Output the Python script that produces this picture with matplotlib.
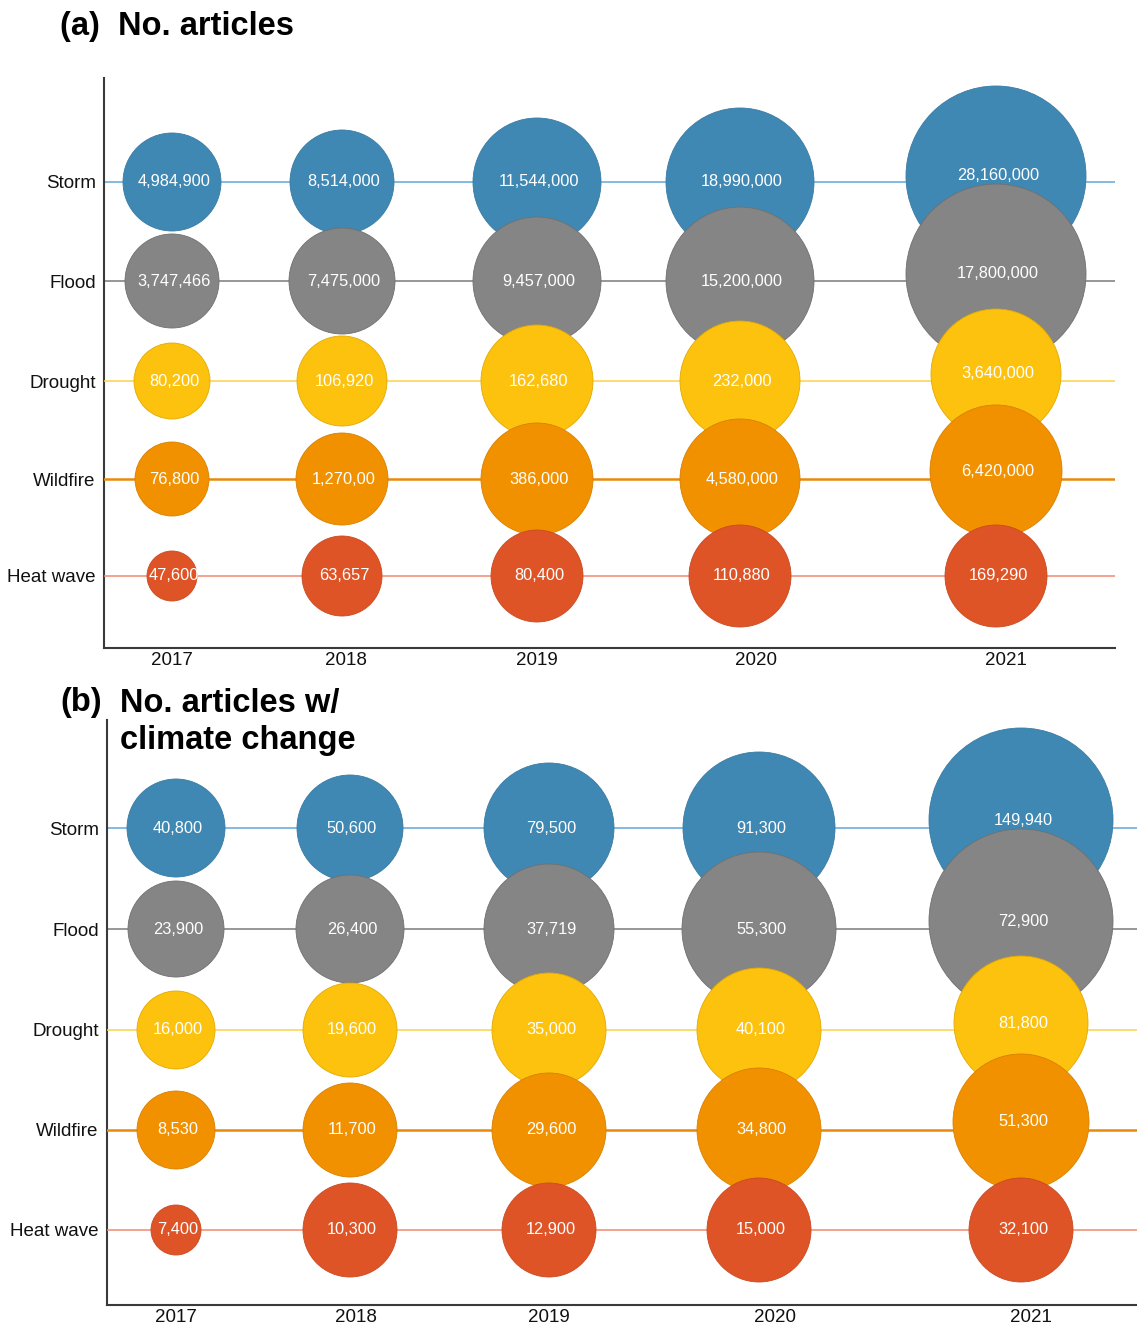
import matplotlib.pyplot as plt
from matplotlib.patches import Circle

plt.rcParams['font.family'] = ['Liberation Sans', 'DejaVu Sans']

years = ["2017", "2018", "2019", "2020", "2021"]
hazards = ["Storm", "Flood", "Drought", "Wildfire", "Heat wave"]

# (a) number of articles, labels as printed in the figure
storm_a = ["4,984,900", "8,514,000", "11,544,000", "18,990,000", "28,160,000"]
flood_a = ["3,747,466", "7,475,000", "9,457,000", "15,200,000", "17,800,000"]
drought_a = ["80,200", "106,920", "162,680", "232,000", "3,640,000"]
wildfire_a = ["76,800", "1,270,00", "386,000", "4,580,000", "6,420,000"]
heatwave_a = ["47,600", "63,657", "80,400", "110,880", "169,290"]

# (b) number of articles mentioning climate change
storm_b = ["40,800", "50,600", "79,500", "91,300", "149,940"]
flood_b = ["23,900", "26,400", "37,719", "55,300", "72,900"]
drought_b = ["16,000", "19,600", "35,000", "40,100", "81,800"]
wildfire_b = ["8,530", "11,700", "29,600", "34,800", "51,300"]
heatwave_b = ["7,400", "10,300", "12,900", "15,000", "32,100"]

# bubble radii as drawn (pixels), rows = hazards, cols = years
radius_a = [[49, 52, 64, 74, 90],
            [47, 53, 64, 74, 90],
            [38, 45, 56, 60, 65],
            [37, 46, 56, 60, 66],
            [25, 40, 46, 51, 51]]
radius_b = [[49, 53, 65, 76, 92],
            [48, 54, 65, 77, 92],
            [39, 47, 57, 62, 67],
            [39, 47, 57, 62, 68],
            [25, 47, 47, 52, 52]]

fill_colors = ["#3f88b4", "#858585", "#fdc20e", "#f29100", "#df5427"]
edge_colors = ["#3a7ba3", "#707070", "#e2aa00", "#d88000", "#c84a22"]
line_colors = ["#62a8d8", "#7a7a7a", "#fcd24a", "#e8890c", "#f08a70"]
line_widths = [1.1, 1.1, 1.1, 1.8, 1.1]

W, H = 1137, 1327
fig = plt.figure(figsize=(W / 100, H / 100), dpi=100)


def draw_panel(box, bubble_x, tick_x, row_y, labels, radii, lift):
    left, top, right, bottom = box
    ax = fig.add_axes([left / W, 1 - bottom / H, (right - left) / W, (bottom - top) / H])
    # one data unit = one pixel, so circles stay round
    ax.set_xlim(0, right - left)
    ax.set_ylim(bottom - top, 0)

    for i, y in enumerate(row_y):
        ax.axhline(y, color=line_colors[i], lw=line_widths[i], zorder=1 + i)
        for j, x in enumerate(bubble_x):
            # the biggest column is pushed up a little in the original
            yc = y - lift[i] if j == len(bubble_x) - 1 else y
            ax.add_patch(Circle((x, yc), radii[i][j], facecolor=fill_colors[i],
                                edgecolor=edge_colors[i], lw=0.6, zorder=10 + 2 * i))
            ax.text(x + 2, yc, labels[i][j], color="white", fontsize=11.8,
                    ha="center", va="center", zorder=11 + 2 * i)

    for side in ["top", "right"]:
        ax.spines[side].set_visible(False)
    for side in ["left", "bottom"]:
        ax.spines[side].set_color("#3a3a3a")
        ax.spines[side].set_linewidth(1.5)

    ax.set_xticks(tick_x, years)
    ax.set_yticks(row_y, hazards)
    ax.tick_params(axis="both", length=0, labelsize=13.5, labelcolor="#111111")
    ax.tick_params(axis="y", pad=6)
    ax.tick_params(axis="x", pad=3)
    return ax


draw_panel((104, 78, 1115, 648),
           [68, 238, 433, 636, 892], [68, 242, 433, 652, 902],
           [104, 203, 303, 401, 498],
           [storm_a, flood_a, drought_a, wildfire_a, heatwave_a], radius_a,
           [6, 7, 7, 8, 0])

draw_panel((107, 720, 1137, 1305),
           [69, 243, 442, 652, 914], [69, 249, 442, 668, 924],
           [108, 209, 310, 410, 510],
           [storm_b, flood_b, drought_b, wildfire_b, heatwave_b], radius_b,
           [8, 8, 7, 8, 0])

fig.text(60 / W, 1 - 27 / H, "(a)  No. articles", fontsize=23.5, weight="bold", va="center")
fig.text(60 / W, 1 - 702 / H, "(b)", fontsize=23.5, weight="bold", va="center")
fig.text(120 / W, 1 - 688 / H, "No. articles w/\nclimate change", fontsize=23.5,
         weight="bold", va="top", linespacing=1.25)

fig.savefig("out.png", dpi=100)
